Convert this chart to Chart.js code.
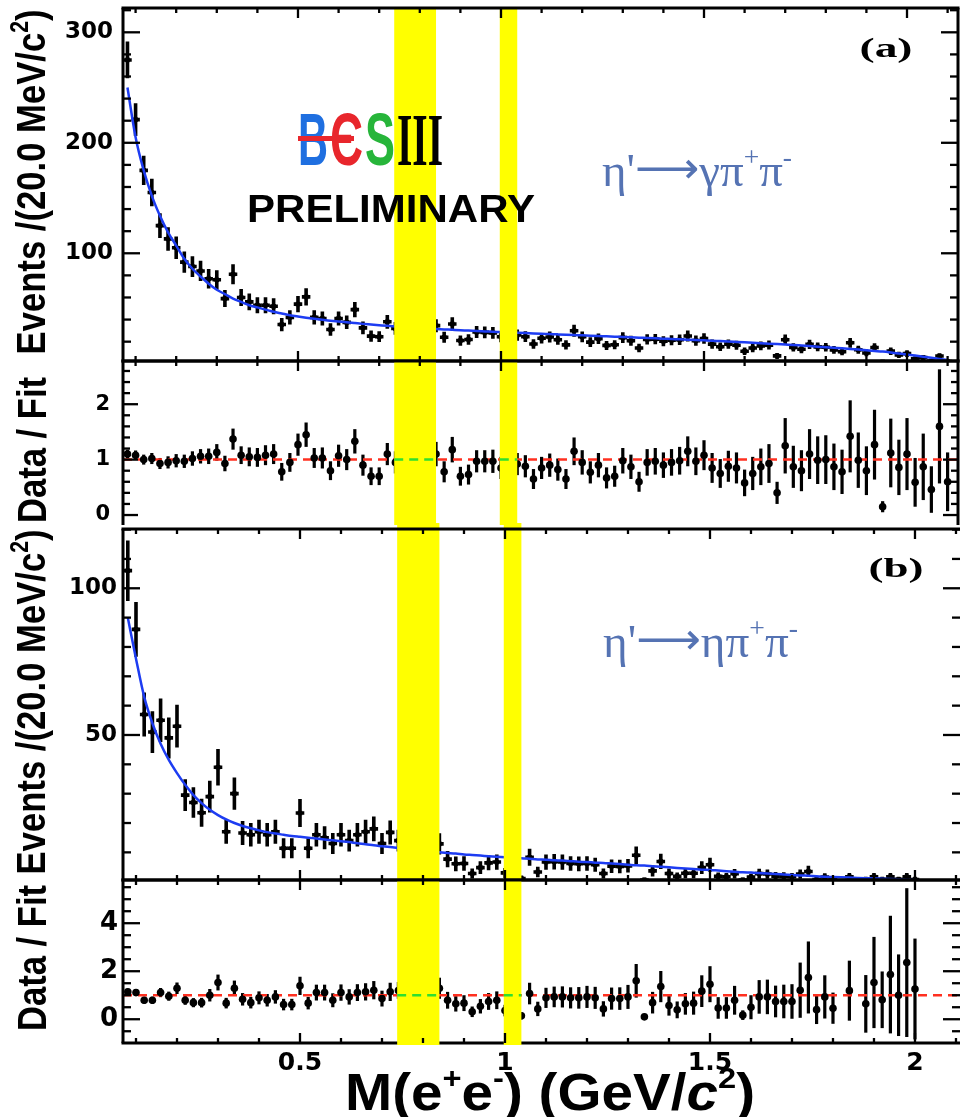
<!DOCTYPE html>
<html><head><meta charset="utf-8">
<script src="https://cdn.jsdelivr.net/npm/chart.js@4.4.1/dist/chart.umd.min.js"></script>
<style>
html,body{margin:0;padding:0;background:#fff;}
body{width:960px;height:1117px;overflow:hidden;position:relative;}
canvas{position:absolute;left:0;}
</style></head>
<body>
<canvas id="cA1" width="960" height="364" style="top:0px"></canvas>
<canvas id="cA2" width="960" height="167" style="top:358px"></canvas>
<canvas id="cB1" width="960" height="360" style="top:523px"></canvas>
<canvas id="cB2" width="960" height="240" style="top:877px"></canvas>
<script>
// ---------------- DATA ----------------
const massA = [0.08,0.10,0.12,0.14,0.16,0.18,0.20,0.22,0.24,0.26,0.28,0.30,0.32,0.34,0.36,0.38,0.40,0.42,0.44,0.46,0.48,0.50,0.52,0.54,0.56,0.58,0.60,0.62,0.64,0.66,0.68,0.70,0.72,0.74,0.76,0.78,0.80,0.82,0.84,0.86,0.88,0.90,0.92,0.94,0.96,0.98,1.00,1.02,1.04,1.06,1.08,1.10,1.12,1.14,1.16,1.18,1.20,1.22,1.24,1.26,1.28,1.30,1.32,1.34,1.36,1.38,1.40,1.42,1.44,1.46,1.48,1.50,1.52,1.54,1.56,1.58,1.60,1.62,1.64,1.66,1.68,1.70,1.72,1.74,1.76,1.78,1.80,1.82,1.84,1.86,1.88,1.90,1.92,1.94,1.96,1.98,2.00,2.02,2.04,2.06,2.08,2.10];
const massB = [0.08,0.10,0.12,0.14,0.16,0.18,0.20,0.22,0.24,0.26,0.28,0.30,0.32,0.34,0.36,0.38,0.40,0.42,0.44,0.46,0.48,0.50,0.52,0.54,0.56,0.58,0.60,0.62,0.64,0.66,0.68,0.70,0.72,0.74,0.76,0.78,0.80,0.82,0.84,0.86,0.88,0.90,0.92,0.94,0.96,0.98,1.00,1.02,1.04,1.06,1.08,1.10,1.12,1.14,1.16,1.18,1.20,1.22,1.24,1.26,1.28,1.30,1.32,1.34,1.36,1.38,1.40,1.42,1.44,1.46,1.48,1.50,1.52,1.54,1.56,1.58,1.60,1.62,1.64,1.66,1.68,1.70,1.72,1.74,1.76,1.78,1.80,1.82,1.84,1.86,1.88,1.90,1.92,1.94,1.96,1.98,2.00];

// (a) eta' -> gamma pi+ pi-
const fitA = [250,205,175,152,134,119,107,95,86,79,
 72.5,67,63,59,56,53,51,49,47,45.5,
 44,42.8,41.7,40.7,39.8,39,38.2,37.5,36.8,36.1,
 35.5,34.9,34.3,33.8,33.3,32.8,32.3,31.9,31.5,31.1,
 30.7,30.3,30.0,29.6,29.3,29.0,28.7,28.4,28.1,27.8,
 27.5,27.2,26.9,26.6,26.3,26.0,25.7,25.4,25.1,24.8,
 24.5,24.2,23.9,23.6,23.3,23.0,22.7,22.4,22.1,21.8,
 21.5,21.2,20.9,20.5,20.2,19.8,19.4,19.0,18.6,18.2,
 17.8,17.4,17.0,16.5,16.0,15.5,15.0,14.5,14.0,13.4,
 12.8,12.2,11.6,11.0,10.2,9.3,8.4,7.4,6.4,5.4,
 4.4,3.4];
const countsA = [275,221,175,155,125,113,105,92,88,84,
 77,76,59,81,60,56,53,53,52,35.5,
 42,54,60.5,42,41,31,41,37.5,49,32.5,
 25,24.5,38,32,35,30,32,31,34.5,24,
 36,21,22,28.7,28.4,28,24.4,27,26,24.5,
 17.9,23.1,24.2,21.8,17.1,29.9,24.4,19.6,22.6,16.6,
 17.2,23.7,20.8,14.2,22.1,22.3,20.4,21.3,21.7,25.1,
 20.9,22.9,17.8,15.4,17.8,16.8,11.3,14.3,16.2,16.9,
 7.1,21.8,14.8,13.2,17.6,15.3,15,12.6,10.9,19,
 12.7,9.8,14.7,1.7,11.4,8.0,9.2,4.4,5.6,2.5,
 7.0,2.0];
const countErrA = [16.6,14.9,13.2,12.5,11.2,10.6,10.2,9.6,9.4,9.2,
 8.8,8.7,7.7,9.0,7.7,7.5,7.3,7.3,7.2,6.0,
 6.5,7.3,7.8,6.5,6.4,5.6,6.4,6.1,7.0,5.7,
 5.0,4.9,6.2,5.7,5.9,5.5,5.7,5.6,5.9,4.9,
 6.0,4.6,4.7,5.4,5.3,5.3,4.9,5.2,5.1,4.9,
 4.2,4.8,4.9,4.7,4.1,5.5,4.9,4.4,4.8,4.1,
 4.1,4.9,4.6,3.8,4.7,4.7,4.5,4.6,4.7,5.0,
 4.6,4.8,4.2,3.9,4.2,4.1,3.4,3.8,4.0,4.1,
 2.7,4.7,3.8,3.6,4.2,3.9,3.9,3.5,3.3,4.4,
 3.6,3.1,3.8,1.3,3.4,2.8,3.0,2.1,2.4,1.6,
 2.6,1.4];
const ratioA = [1.10,1.08,1.00,1.02,0.93,0.95,0.98,0.97,1.02,1.06,
 1.06,1.13,0.93,1.37,1.08,1.05,1.04,1.08,1.10,0.78,
 0.95,1.27,1.45,1.03,1.03,0.80,1.07,1.00,1.33,0.90,
 0.70,0.70,1.10,0.95,1.05,0.92,1.00,0.98,1.10,0.78,
 1.18,0.70,0.73,0.97,0.97,0.97,0.85,0.95,0.92,0.88,
 0.65,0.85,0.90,0.82,0.65,1.15,0.95,0.77,0.90,0.67,
 0.70,0.98,0.87,0.60,0.95,0.97,0.90,0.95,0.98,1.15,
 0.97,1.08,0.85,0.75,0.88,0.85,0.58,0.75,0.87,0.93,
 0.40,1.25,0.87,0.80,1.10,0.99,1.00,0.87,0.78,1.42,
 0.99,0.80,1.27,0.15,1.12,0.86,1.10,0.59,0.87,0.46,
 1.60,0.60];
const ratioErrA = [0.08,0.085,0.09,0.1,0.1,0.11,0.12,0.12,0.13,0.13,
 0.14,0.15,0.14,0.19,0.16,0.17,0.17,0.18,0.18,0.16,
 0.17,0.2,0.22,0.18,0.19,0.17,0.2,0.19,0.22,0.19,
 0.16,0.16,0.2,0.2,0.21,0.2,0.21,0.21,0.22,0.19,
 0.23,0.17,0.18,0.2,0.2,0.21,0.2,0.21,0.2,0.2,
 0.18,0.2,0.21,0.2,0.18,0.25,0.22,0.2,0.22,0.19,
 0.19,0.23,0.22,0.18,0.24,0.24,0.23,0.24,0.25,0.27,
 0.25,0.27,0.27,0.26,0.28,0.28,0.24,0.3,0.33,0.35,
 0.2,0.5,0.38,0.37,0.45,0.43,0.44,0.42,0.4,0.65,
 0.5,0.44,0.63,0.1,0.62,0.5,0.65,0.44,0.6,0.42,
 1.03,0.53];

// (b) eta' -> eta pi+ pi-
const fitB = [90,76,63,54,47,41.5,37,33,29.5,26.8,
 24.5,22.7,21.2,20,19,18.2,17.5,16.9,16.4,16.0,
 15.6,15.3,15.0,14.7,14.4,14.1,13.8,13.5,13.1,12.8,
 12.4,12.1,11.8,11.5,11.2,10.9,10.6,10.3,10.0,9.8,
 9.6,9.3,9.1,8.9,8.7,8.5,8.3,8.1,8.0,7.8,
 7.6,7.5,7.3,7.2,7.0,6.8,6.7,6.5,6.4,6.2,
 6.0,5.8,5.6,5.5,5.3,5.1,4.9,4.7,4.5,4.3,
 4.1,4.0,3.8,3.6,3.4,3.2,3.1,2.95,2.8,2.6,
 2.45,2.3,2.15,2.0,1.85,1.7,1.6,1.5,1.4,1.3,
 1.2,1.1,1.0,0.9,0.8,0.7,0.6];
const countsB = [106,86,57,51,55,49,53,29.5,27,23.5,
 29,39,17,30,16.6,16,17,16,17,11.4,
 11.4,23.4,11.4,16,15,13,16,14,16,17,
 18,13,16.8,14,12,11,10,10.5,12.9,7.7,
 6.1,6.2,2.8,4.8,6.4,6.7,3.0,7.3,1.1,8.3,
 3.3,6.7,6.8,6.7,6.2,6.1,6.2,5.8,2.8,5.3,
 5.2,5.4,9.0,0.6,3.7,6.9,2.8,1.8,2.9,2.9,
 4.8,5.8,1.8,1.7,2.7,0.6,1.55,2.74,2.6,1.9,
 1.8,1.7,2.6,3.5,0.74,1.6,0.74,null,1.67,null,
 0.77,1.68,0.81,1.67,0.8,1.65,0.76];
const countErrB = [10.3,9.3,7.5,7.1,7.4,7.0,7.3,5.4,5.2,4.8,
 5.4,6.2,4.1,5.5,4.1,4.0,4.1,4.0,4.1,3.4,
 3.4,4.8,3.4,4.0,3.9,3.6,4.0,3.7,4.0,4.1,
 4.2,3.6,4.1,3.7,3.5,3.3,3.2,3.2,3.6,2.8,
 2.5,2.5,1.7,2.2,2.5,2.6,1.7,2.7,1.05,2.9,
 1.8,2.6,2.6,2.6,2.5,2.5,2.5,2.4,1.7,2.3,
 2.3,2.3,3.0,0.8,1.9,2.6,1.7,1.3,1.7,1.7,
 2.2,2.4,1.3,1.3,1.6,0.8,1.2,1.7,1.6,1.4,
 1.4,1.3,1.6,1.9,0.9,1.3,0.9,null,1.3,null,
 0.9,1.3,0.9,1.3,0.9,1.3,0.9];
const ratioB = [1.14,1.11,0.79,0.79,1.11,0.96,1.29,0.79,0.69,0.69,
 1.00,1.53,0.67,1.29,0.83,0.69,0.89,0.79,0.93,0.61,
 0.61,1.39,0.67,1.11,1.11,0.79,1.11,0.93,1.11,1.14,
 1.21,0.86,1.14,1.2,1.0,0.95,0.9,0.95,1.29,0.79,
 0.64,0.67,0.31,0.54,0.74,0.79,0.36,0.9,0.14,1.07,
 0.43,0.89,0.93,0.93,0.89,0.89,0.93,0.89,0.43,0.86,
 0.86,0.93,1.6,0.1,0.69,1.36,0.57,0.39,0.64,0.67,
 1.17,1.46,0.47,0.47,0.79,0.17,0.5,0.93,0.93,0.74,
 0.74,0.74,1.21,1.74,0.4,0.93,0.46,null,1.19,null,
 0.64,1.53,0.81,1.86,1.0,2.36,1.26];
const ratioErrB = [0.13,0.14,0.14,0.15,0.19,0.19,0.24,0.19,0.19,0.2,
 0.26,0.33,0.22,0.32,0.26,0.24,0.27,0.26,0.28,0.24,
 0.24,0.38,0.26,0.33,0.33,0.29,0.34,0.32,0.35,0.36,
 0.38,0.33,0.38,0.35,0.34,0.34,0.35,0.36,0.44,0.35,
 0.32,0.33,0.22,0.3,0.35,0.37,0.24,0.4,0.14,0.45,
 0.3,0.42,0.43,0.44,0.44,0.45,0.46,0.46,0.32,0.46,
 0.47,0.5,0.7,0.12,0.45,0.65,0.42,0.35,0.45,0.48,
 0.66,0.75,0.45,0.45,0.6,0.2,0.5,0.7,0.72,0.66,
 0.7,0.72,1.15,1.5,0.6,0.9,0.65,null,1.25,null,
 1.2,1.9,1.18,2.45,1.7,3.1,2.1];

const vetoBands = [[0.737, 0.840], [0.997, 1.040]];
const xTickLabels = [0.5, 1, 1.5, 2];
const yTicksMainA = [100, 200, 300];
const yTicksRatioA = [0, 1, 2];
const yTicksMainB = [50, 100];
const yTicksRatioB = [0, 2, 4];

// ---------------- helpers ----------------
const SANS = '"Liberation Sans", Arial, sans-serif';
const SERIF = '"Liberation Serif", "DejaVu Serif", serif';

function pts(xs, ys, es) {
  const out = [];
  xs.forEach((m, i) => { if (ys[i] !== null && ys[i] !== undefined) out.push({x: m, y: ys[i], e: es[i]}); });
  return out;
}
function curve(xs, ys) { return xs.map((m, i) => ({x: m, y: ys[i]})); }

function drawRich(ctx, s) {
  ctx.save();
  let nat = 0;
  s.seg.forEach(g => { ctx.font = g.f; g.w = ctx.measureText(g.t).width; nat += g.w; });
  const sx = s.width ? s.width / nat : 1;
  ctx.translate(s.x, s.y);
  if (s.rot) ctx.rotate(-Math.PI / 2);
  ctx.scale(sx, 1);
  let cx = s.align === 'center' ? -nat / 2 : 0;
  ctx.textAlign = 'left'; ctx.textBaseline = 'alphabetic';
  s.seg.forEach(g => { ctx.font = g.f; ctx.fillStyle = g.c || s.c || '#000'; ctx.fillText(g.t, cx, g.dy || 0); cx += g.w; });
  ctx.restore();
}

function line(ctx, x1, y1, x2, y2) { ctx.beginPath(); ctx.moveTo(x1, y1); ctx.lineTo(x2, y2); ctx.stroke(); }

const hep = {
  id: 'hep',
  beforeDatasetsDraw(chart, args, o) {
    const {ctx, chartArea: ca} = chart; const x = chart.scales.x, y = chart.scales.y;
    ctx.save();
    ctx.beginPath(); ctx.rect(ca.left, ca.top, ca.right - ca.left, ca.bottom - ca.top); ctx.clip();
    ctx.strokeStyle = '#000'; ctx.lineWidth = o.errW || 3; ctx.lineCap = 'butt';
    chart.data.datasets.forEach(ds => {
      if (!ds.errorBars) return;
      ds.data.forEach(p => {
        const px = x.getPixelForValue(p.x);
        ctx.beginPath();
        ctx.moveTo(px, y.getPixelForValue(p.y - p.e));
        ctx.lineTo(px, y.getPixelForValue(p.y + p.e));
        if (ds.binHalf) {
          const py = y.getPixelForValue(p.y);
          ctx.moveTo(x.getPixelForValue(p.x - ds.binHalf), py);
          ctx.lineTo(x.getPixelForValue(p.x + ds.binHalf), py);
        }
        ctx.stroke();
      });
    });
    ctx.restore();
  },
  afterDatasetsDraw(chart, args, o) {
    const {ctx, chartArea: ca} = chart; const x = chart.scales.x, y = chart.scales.y;
    ctx.save();
    ctx.strokeStyle = '#000'; ctx.lineWidth = 3;
    const sides = {
      top: () => line(ctx, ca.left - 1.5, ca.top, ca.right + 1.5, ca.top),
      bottom: () => line(ctx, ca.left - 1.5, ca.bottom, ca.right + 1.5, ca.bottom),
      left: () => line(ctx, ca.left, ca.top, ca.left, ca.bottom),
      right: () => line(ctx, ca.right, ca.top, ca.right, ca.bottom)
    };
    (o.frameUnder || []).forEach(k => sides[k]());
    ctx.fillStyle = '#ffff00';
    const bt = o.bandTop !== undefined ? o.bandTop : ca.top;
    const bb = o.bandBottom !== undefined ? o.bandBottom : ca.bottom;
    vetoBands.forEach(b => {
      const p1 = x.getPixelForValue(b[0]), p2 = x.getPixelForValue(b[1]);
      ctx.fillRect(p1, bt, p2 - p1, bb - bt);
    });
    if (o.green) {
      ctx.save(); ctx.strokeStyle = '#2fe02f'; ctx.lineWidth = 2.5; ctx.setLineDash([9, 6]);
      const py = y.getPixelForValue(1);
      vetoBands.forEach(b => line(ctx, x.getPixelForValue(b[0]), py, x.getPixelForValue(b[1]), py));
      ctx.restore();
    }
    ctx.strokeStyle = '#000'; ctx.lineWidth = 3;
    (o.frame || []).forEach(k => sides[k]());
    ctx.lineWidth = 2.3;
    for (let i = 1; i <= 21; i++) {
      const v = i / 10; if (v < x.min || v > x.max) continue;
      const px = x.getPixelForValue(v); const L = (i % 5 === 0) ? 10 : 5;
      if (o.xTop) line(ctx, px, ca.top, px, ca.top + L);
      if (o.xBottom) line(ctx, px, ca.bottom, px, ca.bottom - L);
    }
    const n0 = Math.ceil(y.min / o.yMinor - 1e-9), n1 = Math.floor(y.max / o.yMinor + 1e-9);
    for (let n = n0; n <= n1; n++) {
      const v = n * o.yMinor; const r = v / o.yMajor;
      const major = Math.abs(r - Math.round(r)) < 1e-6;
      const py = y.getPixelForValue(v); const L = major ? o.yMajLen : o.yMinLen;
      line(ctx, ca.left, py, ca.left + L, py);
      line(ctx, ca.right, py, ca.right - L, py);
    }
    ctx.restore();
  },
  afterDraw(chart, args, o) {
    const ctx = chart.ctx;
    (o.texts || []).forEach(t => drawRich(ctx, t));
    if (o.besBar) { ctx.save(); ctx.fillStyle = '#e8262c'; ctx.fillRect(o.besBar[0], o.besBar[1], o.besBar[2], o.besBar[3]); ctx.restore(); }
  }
};

function noPad(s) { s.paddingTop = 0; s.paddingBottom = 0; s.paddingLeft = 0; s.paddingRight = 0; }

function makeChart(id, c) {
  return new Chart(document.getElementById(id), {
    type: 'scatter',
    data: {datasets: c.datasets},
    options: {
      responsive: false, animation: false, devicePixelRatio: 1,
      layout: {padding: c.padding, autoPadding: false},
      plugins: {legend: {display: false}, tooltip: {enabled: false}, hep: c.hep},
      scales: {
        x: {type: 'linear', min: c.xmin, max: c.xmax, display: !!c.xLabels,
            grid: {display: false, drawTicks: false}, border: {display: false},
            afterBuildTicks: s => { s.ticks = xTickLabels.map(v => ({value: v})); },
            afterFit: s => { if (c.xLabels) s.height = c.xAxisH; noPad(s); },
            ticks: {autoSkip: false, maxRotation: 0, padding: 5, color: '#000',
                    font: {family: 'DejaVu Sans', size: 25, weight: 'bold'}, callback: v => String(v)}},
        y: {type: 'linear', min: c.ymin, max: c.ymax,
            grid: {display: false, drawTicks: false}, border: {display: false},
            afterBuildTicks: s => { s.ticks = c.yTicks.map(v => ({value: v})); },
            afterFit: s => { s.width = 123; noPad(s); },
            ticks: {autoSkip: false, padding: c.yPad, color: '#000',
                    font: {family: 'DejaVu Sans', size: c.yFont, weight: 'bold'}}}
      }
    },
    plugins: [hep]
  });
}

const FT = 'bold 41px ' + SANS, FTs = 'bold 25px ' + SANS;
const evTitle = (yc) => ({rot: true, x: 45, y: yc, align: 'center', width: 345,
  seg: [{t: 'Events /(20.0 MeV/c', f: FT}, {t: '2', f: FTs, dy: -17}, {t: ')', f: FT}]});
const dfTitle = (yc) => ({rot: true, x: 46, y: yc, align: 'center', width: 146,
  seg: [{t: 'Data / Fit', f: FT}]});
const decayFont = '46px ' + SERIF, decaySup = '27px ' + SERIF, decayColor = '#5573b3';
const arrowFont = '44px "DejaVu Sans", sans-serif';

const xminA = 0.069, xmaxA = 2.1256, xminB = 0.0683, xmaxB = 2.1098;
const fitStyle = {showLine: true, pointRadius: 0, borderColor: '#1d3cf2', borderWidth: 2.5, cubicInterpolationMode: 'monotone', order: 0};
const mainPts = {pointStyle: 'rect', pointRadius: 3.2, backgroundColor: '#000', borderWidth: 0, errorBars: true, binHalf: 0.0105, order: 1};
const ratioPts = {pointStyle: 'circle', pointRadius: 3.8, backgroundColor: '#000', borderWidth: 0, errorBars: true, order: 1};
const unity = (a, b) => ({data: [{x: a, y: 1}, {x: b, y: 1}], showLine: true, pointRadius: 0, borderColor: '#ff3020', borderWidth: 2.5, borderDash: [9, 6], order: 2});

// (a) main
makeChart('cA1', {
  padding: {top: 8, bottom: 3, left: 0, right: 2},
  xmin: xminA, xmax: xmaxA, ymin: 2.5, ymax: 322, yTicks: yTicksMainA, yPad: 10, yFont: 23,
  datasets: [
    Object.assign({label: 'fit', data: curve(massA, fitA)}, fitStyle),
    Object.assign({label: 'data', data: pts(massA, countsA, countErrA)}, mainPts)
  ],
  hep: {errW: 3.6, frame: ['top', 'bottom', 'left', 'right'], xTop: true, xBottom: true,
        yMinor: 20, yMajor: 100, yMajLen: 17, yMinLen: 8,
        besBar: [298, 136, 56, 5],
        texts: [
          evTitle(182),
          {x: 886, y: 57, align: 'center', width: 53, seg: [{t: '(a)', f: 'bold 28px ' + SERIF}]},
          {x: 602, y: 186, width: 190, c: decayColor, seg: [{t: "η'", f: decayFont}, {t: '⟶', f: arrowFont, dy: -3}, {t: 'γπ', f: decayFont}, {t: '+', f: decaySup, dy: -20}, {t: 'π', f: decayFont}, {t: '-', f: decaySup, dy: -20}]},
          {x: 247, y: 222, width: 288, seg: [{t: 'PRELIMINARY', f: 'bold 38px ' + SANS}]},
          {x: 298, y: 165, width: 30, seg: [{t: 'B', f: 'bold 74px ' + SANS, c: '#1f6fe0'}]},
          {x: 330, y: 165, width: 33, seg: [{t: 'Є', f: 'bold 74px ' + SANS, c: '#e8262c'}]},
          {x: 365, y: 165, width: 30, seg: [{t: 'S', f: 'bold 74px ' + SANS, c: '#27b53a'}]},
          {x: 397, y: 165, width: 46, seg: [{t: 'III', f: 'bold 74px ' + SERIF, c: '#000'}]}
        ]}
});
// (a) ratio
makeChart('cA2', {
  padding: {top: 3, bottom: 0, left: 0, right: 2},
  xmin: xminA, xmax: xmaxA, ymin: -0.18, ymax: 2.78, yTicks: yTicksRatioA, yPad: 13, yFont: 21,
  datasets: [
    Object.assign({label: 'unity'}, unity(xminA, xmaxA)),
    Object.assign({label: 'ratio', data: pts(massA, ratioA, ratioErrA)}, ratioPts)
  ],
  hep: {errW: 3.2, frame: ['top', 'left', 'right'], green: true, xTop: true, xBottom: false,
        yMinor: 0.2, yMajor: 1, yMajLen: 15, yMinLen: 7,
        texts: [dfTitle(92)]}
});
// (b) main
makeChart('cB1', {
  padding: {top: 6, bottom: 3, left: 0, right: 0},
  xmin: xminB, xmax: xmaxB, ymin: 0.58, ymax: 120.2, yTicks: yTicksMainB, yPad: 6, yFont: 23,
  datasets: [
    Object.assign({label: 'fit', data: curve(massB, fitB)}, fitStyle),
    Object.assign({label: 'data', data: pts(massB, countsB, countErrB)}, mainPts)
  ],
  hep: {errW: 3.6, frame: ['top', 'bottom', 'left'], bandTop: 0, xTop: true, xBottom: true,
        yMinor: 10, yMajor: 50, yMajLen: 17, yMinLen: 8,
        texts: [
          evTitle(179),
          {x: 896, y: 54, align: 'center', width: 55, seg: [{t: '(b)', f: 'bold 28px ' + SERIF}]},
          {x: 603, y: 134, width: 195, c: decayColor, seg: [{t: "η'", f: decayFont}, {t: '⟶', f: arrowFont, dy: -3}, {t: 'ηπ', f: decayFont}, {t: '+', f: decaySup, dy: -20}, {t: 'π', f: decayFont}, {t: '-', f: decaySup, dy: -20}]}
        ]}
});
// (b) ratio
makeChart('cB2', {
  padding: {top: 3, bottom: 0, left: 0, right: 0},
  xmin: xminB, xmax: xmaxB, ymin: -0.99, ymax: 5.8, yTicks: yTicksRatioB, yPad: 5, yFont: 26,
  xLabels: true, xAxisH: 74,
  datasets: [
    Object.assign({label: 'unity'}, unity(xminB, xmaxB)),
    Object.assign({label: 'ratio', data: pts(massB, ratioB, ratioErrB)}, ratioPts)
  ],
  hep: {errW: 3.2, frameUnder: ['bottom'], frame: ['top', 'left'], bandBottom: 168, green: true, xTop: true, xBottom: true,
        yMinor: 0.5, yMajor: 2, yMajLen: 17, yMinLen: 8,
        texts: [
          dfTitle(81),
          {x: 550, y: 233, align: 'center', width: 410, seg: [
            {t: 'M(e', f: 'bold 52px ' + SANS}, {t: '+', f: 'bold 30px ' + SANS, dy: -22},
            {t: 'e', f: 'bold 52px ' + SANS}, {t: '-', f: 'bold 30px ' + SANS, dy: -22},
            {t: ') (GeV/', f: 'bold 52px ' + SANS}, {t: 'c', f: 'bold italic 52px ' + SANS},
            {t: '2', f: 'bold 30px ' + SANS, dy: -22}, {t: ')', f: 'bold 52px ' + SANS}]}
        ]}
});
</script>
</body></html>
